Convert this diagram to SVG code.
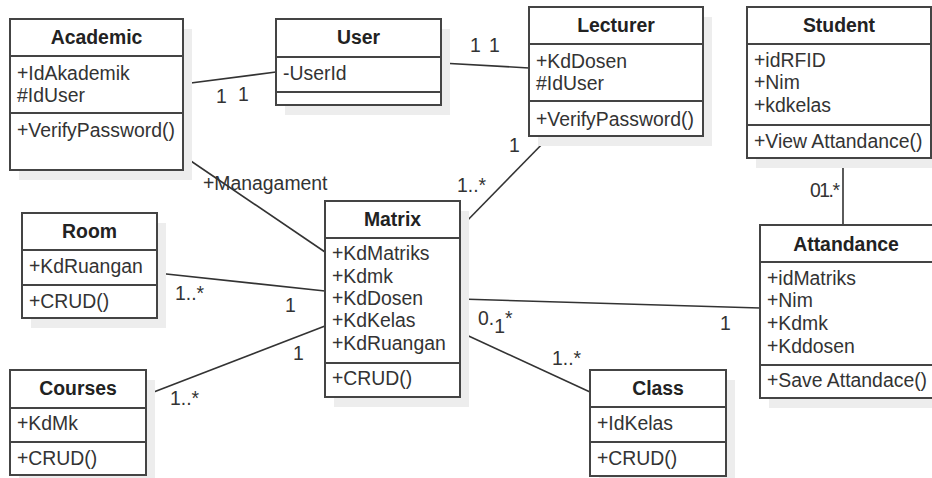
<svg xmlns="http://www.w3.org/2000/svg" width="932" height="478" viewBox="0 0 932 478">
<style>
.sh{fill:#ededed;stroke:none}
.bx{fill:#ffffff;stroke:#444444;stroke-width:2}
.dv{stroke:#444444;stroke-width:2;fill:none}
.ln{stroke:#333333;stroke-width:1.6;fill:none}
text{font-family:"Liberation Sans",Arial,sans-serif;font-size:19.4px;fill:#333333}
.t{font-weight:bold;text-anchor:middle;fill:#222222}
</style>
<rect x="0" y="0" width="932" height="478" fill="#ffffff"/>
<g id="connectors">
<line class="ln" x1="183" y1="84" x2="276" y2="72"/>
<text x="216" y="103">1</text><text x="238" y="101">1</text>
<line class="ln" x1="441" y1="63" x2="529" y2="68"/>
<text x="470" y="52">1</text><text x="489" y="52">1</text>
<line class="ln" x1="550" y1="136" x2="460" y2="228"/>
<text x="509" y="152">1</text><text x="457" y="192">1..*</text>
<line class="ln" x1="843" y1="158" x2="843" y2="225"/>
<text x="810" y="197" letter-spacing="-1.5">01.*</text>
<line class="ln" x1="185" y1="157" x2="325" y2="252"/>
<text x="203" y="190">+Managament</text>
<line class="ln" x1="157" y1="273" x2="325" y2="291"/>
<text x="175" y="300">1..*</text><text x="285" y="312">1</text>
<line class="ln" x1="146" y1="395" x2="325" y2="326"/>
<text x="170" y="405">1..*</text><text x="293" y="360">1</text>
<line class="ln" x1="460" y1="299" x2="760" y2="308"/>
<text x="478" y="325">0.<tspan dy="8">1</tspan><tspan dy="-8">*</tspan></text>
<text x="720" y="330">1</text>
<line class="ln" x1="460" y1="332" x2="590" y2="392"/>
<text x="552" y="365">1..*</text>
</g>
<g id="academic">
<rect class="sh" x="19" y="29" width="173" height="151"/>
<rect class="bx" x="10" y="19" width="173" height="151"/>
<line class="dv" x1="10" y1="56" x2="183" y2="56"/><line class="dv" x1="10" y1="113" x2="183" y2="113"/>
<text class="t" x="96.5" y="44">Academic</text>
<text x="17" y="80">+IdAkademik</text><text x="17" y="102">#IdUser</text>
<text x="17" y="137">+VerifyPassword()</text>
</g>
<g id="user">
<rect class="sh" x="285" y="29" width="165" height="86"/>
<rect class="bx" x="276" y="19" width="165" height="86"/>
<line class="dv" x1="276" y1="57" x2="441" y2="57"/><line class="dv" x1="276" y1="92" x2="441" y2="92"/>
<text class="t" x="358.5" y="44">User</text>
<text x="283" y="80">-UserId</text>
</g>
<g id="lecturer">
<rect class="sh" x="538" y="17" width="174" height="129"/>
<rect class="bx" x="529" y="7" width="174" height="129"/>
<line class="dv" x1="529" y1="44" x2="703" y2="44"/><line class="dv" x1="529" y1="101" x2="703" y2="101"/>
<text class="t" x="616" y="32">Lecturer</text>
<text x="536" y="68">+KdDosen</text><text x="536" y="90">#IdUser</text>
<text x="536" y="126">+VerifyPassword()</text>
</g>
<g id="student">
<rect class="sh" x="756" y="17" width="184" height="151"/>
<rect class="bx" x="747" y="7" width="184" height="151"/>
<line class="dv" x1="747" y1="44" x2="931" y2="44"/><line class="dv" x1="747" y1="125" x2="931" y2="125"/>
<text class="t" x="839" y="32">Student</text>
<text x="754" y="67">+idRFID</text><text x="754" y="89">+Nim</text><text x="754" y="112">+kdkelas</text>
<text x="754" y="148">+View Attandance()</text>
</g>
<g id="matrix">
<rect class="sh" x="334" y="211" width="135" height="196"/>
<rect class="bx" x="325" y="201" width="135" height="196"/>
<line class="dv" x1="325" y1="238" x2="460" y2="238"/><line class="dv" x1="325" y1="363" x2="460" y2="363"/>
<text class="t" x="392.5" y="226">Matrix</text>
<text x="332" y="260">+KdMatriks</text><text x="332" y="283">+Kdmk</text><text x="332" y="305">+KdDosen</text><text x="332" y="327">+KdKelas</text><text x="332" y="350">+KdRuangan</text>
<text x="332" y="385">+CRUD()</text>
</g>
<g id="room">
<rect class="sh" x="31" y="223" width="135" height="105"/>
<rect class="bx" x="22" y="213" width="135" height="105"/>
<line class="dv" x1="22" y1="250" x2="157" y2="250"/><line class="dv" x1="22" y1="285" x2="157" y2="285"/>
<text class="t" x="89.5" y="238">Room</text>
<text x="29" y="273">+KdRuangan</text>
<text x="29" y="308">+CRUD()</text>
</g>
<g id="courses">
<rect class="sh" x="19" y="380" width="136" height="105"/>
<rect class="bx" x="10" y="370" width="136" height="105"/>
<line class="dv" x1="10" y1="408" x2="146" y2="408"/><line class="dv" x1="10" y1="442" x2="146" y2="442"/>
<text class="t" x="78" y="395">Courses</text>
<text x="17" y="430">+KdMk</text>
<text x="17" y="465">+CRUD()</text>
</g>
<g id="attendance">
<rect class="sh" x="769" y="235" width="175" height="173"/>
<rect class="bx" x="760" y="225" width="175" height="173"/>
<line class="dv" x1="760" y1="262" x2="935" y2="262"/><line class="dv" x1="760" y1="365" x2="935" y2="365"/>
<text class="t" x="846" y="251">Attandance</text>
<text x="767" y="285">+idMatriks</text><text x="767" y="307">+Nim</text><text x="767" y="330">+Kdmk</text><text x="767" y="353">+Kddosen</text>
<text x="767" y="387">+Save Attandace()</text>
</g>
<g id="class">
<rect class="sh" x="599" y="380" width="136" height="106"/>
<rect class="bx" x="590" y="370" width="136" height="106"/>
<line class="dv" x1="590" y1="407" x2="726" y2="407"/><line class="dv" x1="590" y1="442" x2="726" y2="442"/>
<text class="t" x="658" y="395">Class</text>
<text x="597" y="430">+IdKelas</text>
<text x="597" y="465">+CRUD()</text>
</g>
</svg>
